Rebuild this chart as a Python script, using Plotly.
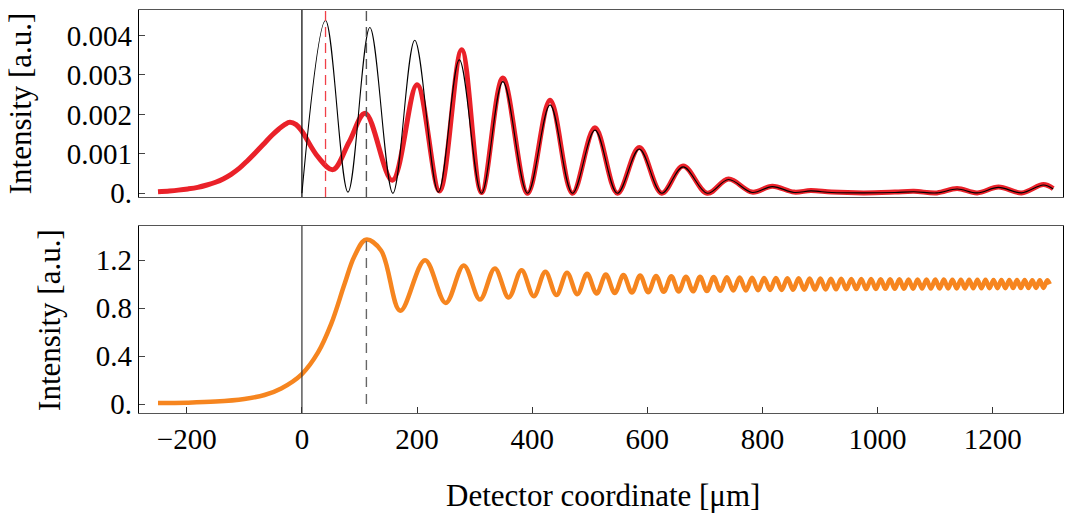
import plotly.graph_objects as go

# ---------------- data ----------------
# Top panel: red (thick) curve
red_x = [-250, -230, -215, -198, -181, -165, -150, -136, -123, -109, -95, -80, -65, -52, -40,
         -30, -21, -10, 0, 28, 54, 82, 110, 157, 200, 239,
         277.5, 312, 349, 392, 431, 470, 509, 548, 586, 625, 662, 704, 741, 782, 817, 855,
         884, 920, 976, 1030, 1063, 1103, 1138, 1173, 1210, 1250, 1288, 1305]
red_y = [0.00004, 0.00006, 0.00008, 0.00011, 0.00015, 0.00021, 0.00028, 0.00037, 0.00048,
         0.00063, 0.00082, 0.00104, 0.00127, 0.00147, 0.00163, 0.00174, 0.0018, 0.00174,
         0.00157, 0.00092, 0.0006, 0.0013, 0.00203, 0.00033, 0.00275, 0.00006,
         0.00364, 0.00002, 0.00292, 0.0, 0.00236, 0.0, 0.00166, 0.0, 0.00116, 0.0, 0.00069, 0.0,
         0.00036, 0.00003, 0.00018, 0.00003, 0.00007, 0.00003, 0.00001, 0.00003, 0.00005,
         0.00001, 0.00012, 0.00001, 0.00016, 0.00001, 0.00022, 0.00012]

# Top panel: black (thin) curve
black_x = [0, 41, 80, 118, 158, 196, 237, 273.5, 312, 349, 392, 431, 470, 509, 548, 586, 625,
           662, 704, 741, 782, 817, 855, 884, 920, 976, 1030, 1063, 1103, 1138, 1173, 1210,
           1250, 1288, 1305]
black_y = [0.0, 0.00438, 0.00003, 0.0042, 0.0, 0.00388, 0.00003, 0.00338, 0.0, 0.00283, 0.0,
           0.00224, 0.0, 0.0016, 0.0, 0.00112, 0.0, 0.00067, 0.0, 0.00035, 0.00002, 0.00017,
           0.00002, 0.00006, 0.00002, 0.00001, 0.00002, 0.00004, 0.00001, 0.00011, 0.00001,
           0.00015, 0.00001, 0.00021, 0.00011]

# Bottom panel: orange curve (rising edge, then extrema alternating max/min)
orange_x = [-250, -200, -150, -100, -65, -36, 0, 28, 51, 74, 91, 111, 137.5, 170.8,
            213.8, 249.8, 281.1, 309.3, 335.1, 359.1, 381.5, 402.7, 422.9, 442.1, 460.5, 478.3,
            495.3, 511.9, 527.9, 543.4, 558.5, 573.2, 587.5, 601.5, 615.2, 628.5, 641.6, 654.5,
            667.1, 679.4, 691.6, 703.5, 715.2, 726.7, 738.1, 749.3, 760.3, 771.2, 781.9, 792.4,
            802.9, 813.2, 823.3, 833.4, 843.3, 853.1, 862.8, 872.4, 881.9, 891.2, 900.5, 909.7,
            918.8, 927.8, 936.7, 945.6, 954.3, 963.0, 971.6, 980.1, 988.6, 997.0, 1005.3,
            1013.5, 1021.7, 1029.8, 1037.8, 1045.8, 1053.7, 1061.6, 1069.4, 1077.2, 1084.9,
            1092.5, 1100.1, 1107.6, 1115.1, 1122.5, 1129.9, 1137.3, 1144.6, 1151.8, 1159.0,
            1166.1, 1173.3, 1180.3, 1187.4, 1194.3, 1201.3, 1208.2, 1215.0, 1221.9, 1228.7,
            1235.4, 1242.1, 1248.8, 1255.4, 1262.1, 1268.6, 1275.2, 1281.7, 1288.1, 1294.6,
            1299]
orange_y = [0.008, 0.011, 0.02, 0.042, 0.075, 0.13, 0.25, 0.43, 0.67, 1.0, 1.23, 1.37, 1.28,
            0.778, 1.199, 0.843, 1.155, 0.871, 1.130, 0.888, 1.115, 0.899, 1.103, 0.908, 1.094,
            0.916, 1.085, 0.921, 1.079, 0.925, 1.075, 0.929, 1.071, 0.932, 1.068, 0.935, 1.065,
            0.938, 1.062, 0.940, 1.060, 0.942, 1.058, 0.944, 1.056, 0.946, 1.054, 0.947, 1.053,
            0.949, 1.051, 0.950, 1.050, 0.951, 1.049, 0.952, 1.048, 0.953, 1.047, 0.954, 1.046,
            0.955, 1.045, 0.956, 1.044, 0.957, 1.043, 0.958, 1.042, 0.958, 1.042, 0.959, 1.041,
            0.960, 1.040, 0.960, 1.040, 0.961, 1.039, 0.961, 1.038, 0.962, 1.038, 0.962, 1.037,
            0.963, 1.037, 0.963, 1.036, 0.964, 1.036, 0.964, 1.035, 0.965, 1.035, 0.965, 1.035,
            0.966, 1.034, 0.966, 1.034, 0.966, 1.033, 0.967, 1.033, 0.967, 1.033, 0.967, 1.032,
            0.968, 1.032, 0.968, 1.032, 1.0]

# reference lines
zero_line_x = 0
red_marker_x = 41
peak_marker_x = 112
peak_marker_top = 1.37

x_tickvals = [-200, 0, 200, 400, 600, 800, 1000, 1200]
x_ticktext = ["\u2212200", "0", "200", "400", "600", "800", "1000", "1200"]
top_tickvals = [0, 0.001, 0.002, 0.003, 0.004]
top_ticktext = ["0.", "0.001", "0.002", "0.003", "0.004"]
bot_tickvals = [0, 0.4, 0.8, 1.2]
bot_ticktext = ["0.", "0.4", "0.8", "1.2"]

# ---------------- styling ----------------
FONT = "Liberation Serif"
RED = "#EA2129"
ORANGE = "#F6851F"
TICK_SIZE = 29
TITLE_SIZE = 31

fig = go.Figure()
fig.add_trace(go.Scatter(x=red_x, y=red_y, mode="lines", xaxis="x", yaxis="y",
                         line=dict(color=RED, width=5, shape="spline", smoothing=1.0),
                         hoverinfo="skip"))
fig.add_trace(go.Scatter(x=black_x, y=black_y, mode="lines", xaxis="x", yaxis="y",
                         line=dict(color="black", width=1.1, shape="spline", smoothing=1.0),
                         hoverinfo="skip"))
fig.add_trace(go.Scatter(x=orange_x, y=orange_y, mode="lines", xaxis="x2", yaxis="y2",
                         line=dict(color=ORANGE, width=4.5, shape="spline", smoothing=1.0),
                         hoverinfo="skip"))

xrange = [-283, 1322]
common_x = dict(range=xrange, showgrid=False, zeroline=False, showline=True, mirror=True,
                linecolor="#555", linewidth=1.2)
fig.update_layout(
    width=1065, height=513,
    margin=dict(l=139, r=2, t=10, b=100, autoexpand=False),
    plot_bgcolor="white", paper_bgcolor="white",
    showlegend=False,
    font=dict(family=FONT, color="black", size=TICK_SIZE),
    xaxis=dict(**common_x, anchor="y", matches="x2", showticklabels=False, ticks=""),
    yaxis=dict(domain=[0.536, 1.0], range=[-0.000094, 0.004645], showgrid=False,
               zeroline=False, showline=True, mirror=True, linecolor="black", linewidth=1.2,
               ticks="inside", ticklen=6, tickcolor="#444",
               tickvals=top_tickvals, ticktext=top_ticktext,
               tickfont=dict(family=FONT, size=TICK_SIZE)),
    xaxis2=dict(**common_x, anchor="y2", ticks="inside", ticklen=6, tickcolor="#333",
                tickvals=x_tickvals, ticktext=x_ticktext,
                tickfont=dict(family=FONT, size=TICK_SIZE)),
    yaxis2=dict(domain=[0.0, 0.464], range=[-0.075, 1.484], showgrid=False, zeroline=False,
                showline=True, mirror=True, linecolor="black", linewidth=1.2,
                ticks="inside", ticklen=6, tickcolor="#444",
                tickvals=bot_tickvals, ticktext=bot_ticktext,
                tickfont=dict(family=FONT, size=TICK_SIZE)),
)

shapes = [
    dict(type="line", xref="x", yref="y domain", x0=zero_line_x, x1=zero_line_x, y0=0, y1=1,
         line=dict(color="black", width=1.2)),
    dict(type="line", xref="x", yref="y domain", x0=red_marker_x, x1=red_marker_x, y0=0, y1=1,
         line=dict(color="#F04048", width=1.3, dash="10px,6px")),
    dict(type="line", xref="x", yref="y domain", x0=peak_marker_x, x1=peak_marker_x, y0=0, y1=1,
         line=dict(color="#555", width=1.4, dash="10px,6px")),
    dict(type="line", xref="x2", yref="y2 domain", x0=zero_line_x, x1=zero_line_x, y0=0, y1=1,
         line=dict(color="#333", width=1.2)),
    dict(type="line", xref="x2", yref="y2", x0=peak_marker_x, x1=peak_marker_x,
         y0=0, y1=peak_marker_top, line=dict(color="#666", width=1.4, dash="10px,7px")),
]
fig.update_layout(shapes=shapes)

fig.add_annotation(text="Intensity [a.u.]", xref="paper", yref="paper",
                   x=-0.128, y=0.768, xanchor="center", yanchor="middle",
                   textangle=-90, showarrow=False, font=dict(family=FONT, size=TITLE_SIZE))
fig.add_annotation(text="Intensity [a.u.]", xref="paper", yref="paper",
                   x=-0.097, y=0.232, xanchor="center", yanchor="middle",
                   textangle=-90, showarrow=False, font=dict(family=FONT, size=TITLE_SIZE))
fig.add_annotation(text="Detector coordinate [\u03bcm]", xref="paper", yref="paper",
                   x=0.502, y=-0.204, xanchor="center", yanchor="middle",
                   showarrow=False, font=dict(family=FONT, size=TITLE_SIZE))

fig.write_html("out.html", config={"displayModeBar": False},
               post_script="document.body.style.margin='0px';document.body.style.padding='0px';")
